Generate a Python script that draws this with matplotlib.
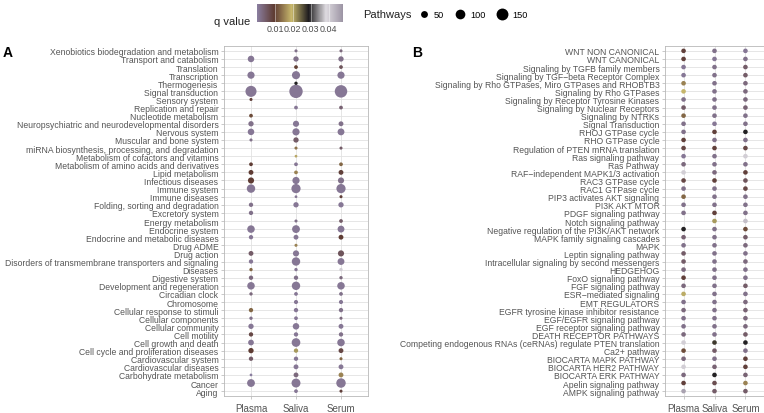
import matplotlib
matplotlib.use('Agg')
import matplotlib.pyplot as plt
import numpy as np
from matplotlib.colors import LinearSegmentedColormap, Normalize
from matplotlib.cm import ScalarMappable

plt.rcParams['font.family'] = ['Liberation Sans', 'DejaVu Sans']

nan = np.nan
samples = ['Plasma', 'Saliva', 'Serum']

# ---- panel A: KEGG-like categories (top to bottom) ----
a_terms = [
    'Xenobiotics biodegradation and metabolism', 'Transport and catabolism', 'Translation',
    'Transcription', 'Thermogenesis', 'Signal transduction', 'Sensory system',
    'Replication and repair', 'Nucleotide metabolism',
    'Neuropsychiatric and neurodevelopmental disorders', 'Nervous system',
    'Muscular and bone system', 'miRNA biosynthesis, processing, and degradation',
    'Metabolism of cofactors and vitamins', 'Metabolism of amino acids and derivatives',
    'Lipid metabolism', 'Infectious diseases', 'Immune system', 'Immune diseases',
    'Folding, sorting and degradation', 'Excretory system', 'Energy metabolism',
    'Endocrine system', 'Endocrine and metabolic diseases', 'Drug ADME', 'Drug action',
    'Disorders of transmembrane transporters and signaling', 'Diseases', 'Digestive system',
    'Development and regeneration', 'Circadian clock', 'Chromosome',
    'Cellular response to stimuli', 'Cellular components', 'Cellular community',
    'Cell motility', 'Cell growth and death', 'Cell cycle and proliferation diseases',
    'Cardiovascular system', 'Cardiovascular diseases', 'Carbohydrate metabolism',
    'Cancer', 'Aging',
]
a_plasma_n = [nan, 45, nan, 55, nan, 130, 10, nan, 15, 30, 45, 10, nan, nan, 15,
              25, 40, 75, nan, 20, 20, nan, 60, 20, nan, 25, 20, 12, 20, 60,
              12, nan, 20, 12, 30, 20, 35, 30, 20, nan, 8, 65, nan]
a_saliva_n = [10, 30, 15, 70, 12, 190, nan, 15, nan, 40, 55, 30, 10, 8, 15,
              15, 55, 90, 8, 30, nan, 10, 65, 25, 10, 40, 75, 12, 20, 75,
              15, 18, 20, 15, 45, 20, 80, 20, 20, 25, 25, 85, 15]
a_serum_n = [10, 30, 15, 55, nan, 165, nan, 15, nan, 25, 50, nan, 10, nan, 15,
             25, 40, 90, 10, 30, nan, 15, 50, 25, nan, 40, 50, 12, 12, 60,
             15, 18, 20, 10, 25, 20, 60, 25, 10, 25, 25, 95, 10]
a_plasma_q = [nan, .001, nan, .001, nan, .001, .009, nan, .011, .002, .001, .002, nan, nan, .0095,
              .0095, .0095, .001, nan, .002, .002, nan, .001, .001, nan, .005, .001, .013, .003, .001,
              .003, nan, .013, .002, .001, .008, .001, .0096, .005, nan, .000, .001, nan]
a_saliva_q = [.002, .002, .010, .001, .029, .001, nan, .001, nan, .001, .001, .005, .014, .018, .001,
              .015, .001, .001, .001, .001, nan, .002, .001, .001, .015, .001, .001, .001, .002, .001,
              .001, .001, .001, .001, .001, .001, .001, .021, .001, .001, .003, .001, .001]
a_serum_q = [.003, .002, .006, .001, nan, .001, nan, .004, nan, .002, .001, nan, .005, nan, .013,
             .009, .002, .001, .009, .001, nan, .005, .001, .0095, nan, .006, .001, .040, .003, .001,
             .002, .001, .002, .003, .001, .002, .001, .008, .013, .001, .015, .001, .009]

# ---- panel B: signaling pathways (top to bottom) ----
b_terms = [
    'WNT NON CANONICAL', 'WNT CANONICAL', 'Signaling by TGFB family members',
    'Signaling by TGF\u2212beta Receptor Complex',
    'Signaling by Rho GTPases, Miro GTPases and RHOBTB3', 'Signaling by Rho GTPases',
    'Signaling by Receptor Tyrosine Kinases', 'Signaling by Nuclear Receptors',
    'Signaling by NTRKs', 'Signal Transduction', 'RHOJ GTPase cycle', 'RHO GTPase cycle',
    'Regulation of PTEN mRNA translation', 'Ras signaling pathway', 'Ras Pathway',
    'RAF\u2212independent MAPK1/3 activation', 'RAC3 GTPase cycle', 'RAC1 GTPase cycle',
    'PIP3 activates AKT signaling', 'PI3K AKT MTOR', 'PDGF signaling pathway',
    'Notch signaling pathway', 'Negative regulation of the PI3K/AKT network',
    'MAPK family signaling cascades', 'MAPK', 'Leptin signaling pathway',
    'Intracellular signaling by second messengers', 'HEDGEHOG', 'FoxO signaling pathway',
    'FGF signaling pathway', 'ESR\u2212mediated signaling', 'EMT REGULATORS',
    'EGFR tyrosine kinase inhibitor resistance', 'EGF/EGFR signaling pathway',
    'EGF receptor signaling pathway', 'DEATH RECEPTOR PATHWAYS',
    'Competing endogenous RNAs (ceRNAs) regulate PTEN translation', 'Ca2+ pathway',
    'BIOCARTA MAPK PATHWAY', 'BIOCARTA HER2 PATHWAY', 'BIOCARTA ERK PATHWAY',
    'Apelin signaling pathway', 'AMPK signaling pathway',
]
b_plasma_q = [.009, .009, .001, .001, .015, .019, .002, .005, .013, .002, .002, .009, .008,
              .001, .003, .040, .008, .002, .013, .002, .002, nan, .029, .004, .002, .005,
              .005, .003, .009, .003, .020, .002, .003, .002, .002, .003, .040, .011, .003,
              .040, .003, .009, .046]
b_saliva_q = [.002, .001, .002, .002, .002, .002, .002, .002, .002, .001, .009, .002, .009,
              .002, .002, .003, .009, .002, .002, .002, .009, .021, .002, .002, .002, .002,
              .002, .002, .002, .002, .002, .002, .002, .002, .002, .002, .027, .005, .002,
              .004, .029, .007, .005]
b_serum_q = [.001, .002, .005, .005, .003, .003, .003, .004, .002, .002, .029, .002, .008,
             .040, .002, .009, .006, .008, .002, .002, .002, .042, .011, .005, .003, .002,
             .003, .002, .002, .005, .002, .003, .004, .003, .003, .005, .029, .002, .009,
             .009, .004, .015, .005]

# ---- legend values ----
q_ticks = [0.01, 0.02, 0.03, 0.04]
q_max = 0.048
size_breaks = [50, 100, 150]

cmap = LinearSegmentedColormap.from_list(
    'qv', [(0.0, '#8a7ea0'), (0.2, '#5e3b32'), (0.4, '#c8b86c'),
           (0.6, '#1f1d1f'), (0.8, '#dedbe0'), (1.0, '#9c94a4')])
norm = Normalize(vmin=0, vmax=q_max)


def msize(n):
    # marker area in pt^2, diameter ~0.97*sqrt(n) px at 100 dpi
    return (0.97 * 0.72) ** 2 * np.asarray(n, dtype=float)


def style_axis(ax, terms):
    k = len(terms)
    ax.set_xlim(-0.6, 2.6)
    ax.set_ylim(-0.6, k - 0.4)
    ax.set_xticks(range(3))
    ax.set_xticklabels(samples)
    ax.set_yticks(range(k))
    ax.set_yticklabels(terms[::-1])
    ax.set_axisbelow(True)
    ax.grid(color='#e2e2e2', lw=0.6)
    for sp in ax.spines.values():
        sp.set_color('#b8b8b8')
        sp.set_linewidth(0.6)
    ax.tick_params(axis='y', labelsize=6.25, colors='#b3b3b3', labelcolor='#555555',
                   length=2.5, width=0.5, pad=1.5)
    ax.tick_params(axis='x', labelsize=7, colors='#b3b3b3', labelcolor='#555555',
                   length=2.5, width=0.5, pad=2.5)


fig = plt.figure(figsize=(7.64, 4.14), dpi=100)

# panel A
axA = fig.add_axes([224 / 764, 17 / 414, 144 / 764, 350 / 414])
ka = len(a_terms)
ya = np.arange(ka)[::-1]
for i, (nn, qq) in enumerate([(a_plasma_n, a_plasma_q), (a_saliva_n, a_saliva_q),
                              (a_serum_n, a_serum_q)]):
    nn = np.array(nn, dtype=float)
    qq = np.array(qq, dtype=float)
    ok = ~np.isnan(nn)
    order = np.argsort(-nn[ok])
    axA.scatter(np.full(ok.sum(), i)[order], ya[ok][order], s=msize(nn[ok][order]),
                c=qq[ok][order], cmap=cmap, norm=norm, linewidths=0, zorder=3)
style_axis(axA, a_terms)

# panel B
axB = fig.add_axes([665 / 764, 17 / 414, 99 / 764, 350 / 414])
kb = len(b_terms)
yb = np.arange(kb)[::-1]
for i, qq in enumerate([b_plasma_q, b_saliva_q, b_serum_q]):
    qq = np.array(qq, dtype=float)
    ok = ~np.isnan(qq)
    axB.scatter(np.full(ok.sum(), i), yb[ok], s=11, c=qq[ok], cmap=cmap, norm=norm,
                linewidths=0, zorder=3)
style_axis(axB, b_terms)

fig.text(3 / 764, 1 - 53 / 414, 'A', fontsize=10, fontweight='bold', va='center')
fig.text(412 / 764, 1 - 53 / 414, 'B', fontsize=10, fontweight='bold', va='center')

# q value colorbar
fig.text(214 / 764, 1 - 22 / 414, 'q value', fontsize=8, color='#222222', va='center')
cax = fig.add_axes([257 / 764, 1 - 23 / 414, 86 / 764, 18 / 414])
cb = fig.colorbar(ScalarMappable(norm=norm, cmap=cmap), cax=cax, orientation='horizontal')
cb.outline.set_visible(False)
cb.set_ticks(q_ticks)
cb.set_ticklabels([f'{t:.2f}' for t in q_ticks])
cax.tick_params(length=0, labelsize=6.4, labelcolor='#4d4d4d', pad=1.5)
for t in q_ticks:
    cax.axvline(t, color='white', lw=0.5, alpha=0.6)

# Pathways size legend
fig.text(363 / 764, 1 - 15 / 414, 'Pathways', fontsize=8, color='#222222', va='center')
handles = [axA.scatter([], [], s=msize(b), c='black', linewidths=0) for b in size_breaks]
fig.legend(handles, [str(b) for b in size_breaks], ncol=3, loc='center left',
           bbox_to_anchor=(418 / 764, 1 - 15 / 414), frameon=False, fontsize=6.6,
           handletextpad=0.5, columnspacing=1.2, borderpad=0, borderaxespad=0,
           handlelength=1.2)

fig.savefig('out.png', dpi=100)
